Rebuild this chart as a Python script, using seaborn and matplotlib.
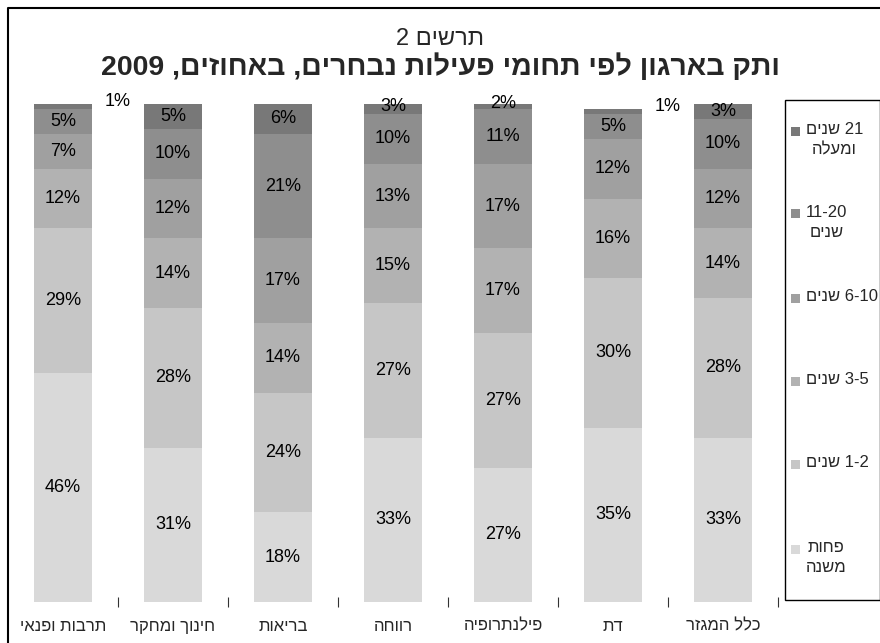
import re
import numpy as np
import matplotlib
matplotlib.use("Agg")
import matplotlib.pyplot as plt
import seaborn as sns
from matplotlib.patches import Rectangle
from matplotlib.lines import Line2D

sns.set_theme(style="white")
plt.rcParams["font.family"] = ["Liberation Sans", "DejaVu Sans"]

# Fields of activity (left to right) and tenure groups (bottom to top)
categories = ["תרבות ופנאי", "חינוך ומחקר", "בריאות", "רווחה", "פילנתרופיה", "דת", "כלל המגזר"]
under_1 = [46, 31, 18, 33, 27, 35, 33]
years_1_2 = [29, 28, 24, 27, 27, 30, 28]
years_3_5 = [12, 14, 14, 15, 17, 16, 14]
years_6_10 = [7, 12, 17, 13, 17, 12, 12]
years_11_20 = [5, 10, 21, 10, 11, 5, 10]
years_21_plus = [1, 5, 6, 3, 2, 1, 3]
legend_lines = [["פחות", "משנה"], ["1-2 שנים"], ["3-5 שנים"],
                ["6-10 שנים"], ["11-20", "שנים"], ["21 שנים", "ומעלה"]]
colors = ["#d9d9d9", "#c6c6c6", "#b2b2b2", "#a0a0a0", "#8e8e8e", "#787878"]
title_small = "תרשים 2"
title_main = "ותק בארגון לפי תחומי פעילות נבחרים, באחוזים, 2009"


def visual(s):
    """Right-to-left display order, keeping number runs left-to-right."""
    tokens = re.findall(r"[0-9][0-9\-]*|.", s)
    return "".join(reversed(tokens))


W, H = 880, 643
fig = plt.figure(figsize=(W / 100, H / 100), dpi=100)


def fx(x):
    return x / W


def fy(y):
    return 1 - y / H


ax = fig.add_axes([fx(8), fy(602), fx(778) - fx(8), fy(104) - fy(602)])

vals = np.array([under_1, years_1_2, years_3_5, years_6_10, years_11_20, years_21_plus])
cum = vals.cumsum(axis=0)

# stacked bars drawn as overlapping cumulative totals, top layer first
for i in reversed(range(len(vals))):
    sns.barplot(x=categories, y=cum[i], order=categories, color=colors[i],
                width=0.52, saturation=1, errorbar=None, linewidth=0,
                edgecolor="none", ax=ax)

ax.set_xlim(-0.5, len(categories) - 0.5)
ax.set_ylim(0, 100)
for sp in ax.spines.values():
    sp.set_visible(False)
ax.set_yticks([])
ax.set_xticks(range(len(categories)))
ax.set_xticklabels([visual(c) for c in categories], fontsize=12)
ax.set_xticks(np.arange(0.5, len(categories), 1.0), minor=True)
ax.tick_params(axis="x", which="major", length=0, pad=12)
ax.tick_params(axis="x", which="minor", direction="inout", length=7.5,
               width=0.8, color="#333333", bottom=True)
ax.set_xlabel("")
ax.set_ylabel("")

# segment value labels
for i in range(vals.shape[0]):
    for j in range(vals.shape[1]):
        v = vals[i, j]
        base = cum[i, j] - v
        if v >= 2:
            ax.text(j, base + v / 2, f"{v}%", ha="center", va="center",
                    fontsize=13, color="black")
        else:
            ax.annotate(f"{v}%", xy=(j + 0.5, cum[i, j]), xytext=(0, 2),
                        textcoords="offset points", ha="center", va="center",
                        fontsize=13, color="black", annotation_clip=False)

# titles
fig.text(0.5, fy(39), visual(title_small), ha="center", va="center", fontsize=17)
fig.text(0.5, fy(67), visual(title_main), ha="center", va="center",
         fontsize=20.5, fontweight="bold")

# outer chart frame
fig.add_artist(Line2D([fx(7.5), fx(7.5), fx(880)], [fy(643), fy(7.5), fy(7.5)],
                      transform=fig.transFigure, color="black", lw=1.5))

# legend box
fig.add_artist(Rectangle((fx(784.5), fy(600)), fx(880) - fx(784.5), fy(100) - fy(600),
                         transform=fig.transFigure, fill=False, edgecolor="black", lw=1.0))
legend_y = [549, 464, 381, 298, 214, 131]
for i, lines in enumerate(legend_lines):
    yc = legend_y[i]
    fig.add_artist(Rectangle((fx(791), fy(yc + 4.5)), fx(9), 9 / H,
                             transform=fig.transFigure, color=colors[i], lw=0))
    fig.text(fx(806), fy(yc - 9), "\n".join(visual(l) for l in lines),
             ha="left", va="top", multialignment="center", fontsize=12,
             linespacing=1.45)

fig.savefig("out.png", dpi=100)
